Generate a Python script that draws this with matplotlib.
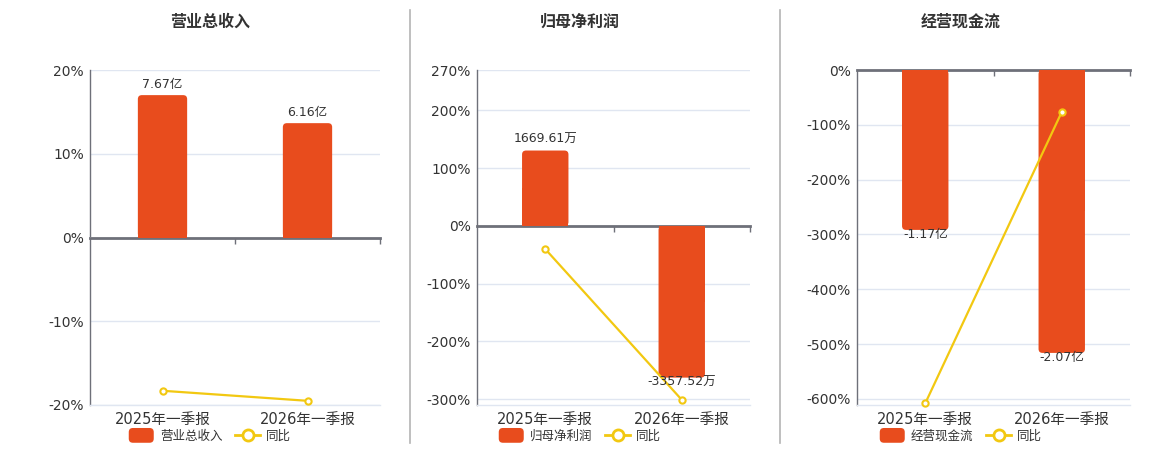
import matplotlib
matplotlib.use('Agg')
import matplotlib.pyplot as plt
from matplotlib.patches import Patch, FancyBboxPatch
from matplotlib.lines import Line2D
from matplotlib.legend_handler import HandlerPatch

plt.rcParams['font.family'] = ['DejaVu Sans', 'Noto Sans CJK SC']

# ---------------- data ----------------
categories = ['2025年一季报', '2026年一季报']
titles = ['营业总收入', '归母净利润', '经营现金流']
bar_names = ['营业总收入', '归母净利润', '经营现金流']
line_name = '同比'
bar_values = [[7.67, 6.16], [1669.61, -3357.52], [-1.17, -2.07]]
bar_labels = [['7.67亿', '6.16亿'], ['1669.61万', '-3357.52万'], ['-1.17亿', '-2.07亿']]
yoy_values = [[-18.3, -19.5], [-40.0, -301.0], [-608.0, -76.6]]
y_ticks = [[20, 10, 0, -10, -20],
           [270, 200, 100, 0, -100, -200, -300],
           [0, -100, -200, -300, -400, -500, -600]]
y_ticklabels = [[f'{t}%' for t in ticks] for ticks in y_ticks]
y_limits = [(-20, 20), (-310, 270), (-611, 0)]
# percent-axis units per bar unit (secondary scale alignment)
bar_scale = [17.0 / 7.67, 262.6 / 3357.52, 516.0 / 2.07]

# ---------------- style ----------------
W, H = 1160, 450
BAR_COLOR = '#E84C1D'
LINE_COLOR = '#F2C811'
AXIS_COLOR = '#6E7079'
GRID_COLOR = '#E0E6F1'
TEXT_COLOR = '#333333'
ax_left_px = [90, 477, 857]
ax_width_px = [290, 273, 273]
ax_top_px, ax_bottom_px = 70, 405
title_cx_px = [210, 580, 961]
divider_px = [410, 780]

fig = plt.figure(figsize=(W / 100, H / 100), dpi=100)
fig.patch.set_facecolor('white')

for xd in divider_px:
    fig.add_artist(Line2D([xd / W, xd / W], [1 - 10 / H, 1 - 443 / H],
                          color='#B4B4B4', lw=1.2, transform=fig.transFigure))


def rounded_handle(legend, orig_handle, xdescent, ydescent, width, height, fontsize):
    return FancyBboxPatch((-xdescent, -ydescent - 1), width, height + 2,
                          boxstyle='round,pad=0,rounding_size=3')


for i in range(3):
    left = ax_left_px[i] / W
    bottom = 1 - ax_bottom_px / H
    width = ax_width_px[i] / W
    height = (ax_bottom_px - ax_top_px) / H
    ax = fig.add_axes([left, bottom, width, height])
    ymin, ymax = y_limits[i]
    ax.set_ylim(ymin, ymax)
    ax.set_xlim(-0.5, 1.5)
    ax.set_yticks(y_ticks[i])
    ax.set_yticklabels(y_ticklabels[i])
    ax.yaxis.grid(True, color=GRID_COLOR, lw=1)
    ax.set_axisbelow(True)
    ax.tick_params(axis='y', length=0, pad=4.5, labelsize=10, labelcolor=TEXT_COLOR)
    ax.set_xticks(range(len(categories)))
    ax.set_xticklabels(categories)
    ax.tick_params(axis='x', length=0, pad=5, labelsize=10.5, labelcolor=TEXT_COLOR)
    for s in ['top', 'right']:
        ax.spines[s].set_visible(False)
    ax.spines['left'].set_color(AXIS_COLOR)
    ax.spines['left'].set_linewidth(1)
    ax.spines['bottom'].set_color(GRID_COLOR)
    ax.spines['bottom'].set_linewidth(1)

    axb = ax.twinx()
    axb.set_ylim(ymin / bar_scale[i], ymax / bar_scale[i])
    axb.set_yticks([])
    for s in axb.spines.values():
        s.set_visible(False)

    bars = axb.bar(range(len(categories)), bar_values[i], width=0.34,
                   color=BAR_COLOR, zorder=2)
    # rounded outer corners
    ax_h_px = ax_bottom_px - ax_top_px
    x_per_px = 2.0 / ax_width_px[i]
    y_per_px = (axb.get_ylim()[1] - axb.get_ylim()[0]) / ax_h_px
    aspect = y_per_px / x_per_px
    r = 4 * x_per_px
    for p in bars.patches:
        x0, w = p.get_x(), p.get_width()
        y0, h = p.get_y(), p.get_height()
        lo, hi = min(y0, y0 + h), max(y0, y0 + h)
        fb = FancyBboxPatch((x0, lo), w, hi - lo,
                            boxstyle=f'round,pad=0,rounding_size={r}',
                            mutation_aspect=aspect, facecolor=BAR_COLOR,
                            edgecolor='none', zorder=2)
        axb.add_patch(fb)
        # keep square corners at the zero end
        p.set_height(h / 2)

    for xi, (v, lab) in enumerate(zip(bar_values[i], bar_labels[i])):
        if v >= 0:
            axb.annotate(lab, (xi, v), xytext=(0, 3), textcoords='offset points',
                         ha='center', va='bottom', fontsize=9, color=TEXT_COLOR, zorder=5)
        else:
            axb.annotate(lab, (xi, v), xytext=(0, 1.5), textcoords='offset points',
                         ha='center', va='top', fontsize=9, color=TEXT_COLOR, zorder=5)

    axb.plot(range(len(categories)), yoy_values[i], transform=ax.transData,
             color=LINE_COLOR, lw=1.6, marker='o', markersize=4.5,
             markerfacecolor='white', markeredgecolor=LINE_COLOR,
             markeredgewidth=1.5, zorder=4, clip_on=False)

    # zero axis line with category boundary ticks
    zero_frac = (0 - ymin) / (ymax - ymin)
    sec = axb.secondary_xaxis(zero_frac)
    sec.set_alignment('bottom')
    sec.set_xticks([0.5, 1.5])
    sec.set_xticklabels([])
    sec.tick_params(axis='x', direction='out', length=4.5, width=1, color=AXIS_COLOR)
    sec.spines['bottom'].set_color(AXIS_COLOR)
    sec.spines['bottom'].set_linewidth(2)

    fig.text(title_cx_px[i] / W, 1 - 22 / H, titles[i], ha='center', va='center',
             fontsize=11.5, fontweight='bold', color=TEXT_COLOR,
             family=['Noto Sans CJK SC', 'DejaVu Sans'])

    handles = [Patch(facecolor=BAR_COLOR, edgecolor='none'),
               Line2D([], [], color=LINE_COLOR, lw=2, marker='o', markersize=8,
                      markerfacecolor='white', markeredgewidth=2)]
    fig.legend(handles, [bar_names[i], line_name], loc='center',
               bbox_to_anchor=(title_cx_px[i] / W, 1 - 436 / H), ncol=2,
               frameon=False, fontsize=9, handlelength=2.0, handleheight=1.1,
               handletextpad=0.5, columnspacing=1.0, borderpad=0,
               labelcolor=TEXT_COLOR,
               prop={'family': ['Noto Sans CJK SC', 'DejaVu Sans'], 'size': 9},
               handler_map={Patch: HandlerPatch(patch_func=rounded_handle)})

fig.savefig('out.png', dpi=100, facecolor='white')
